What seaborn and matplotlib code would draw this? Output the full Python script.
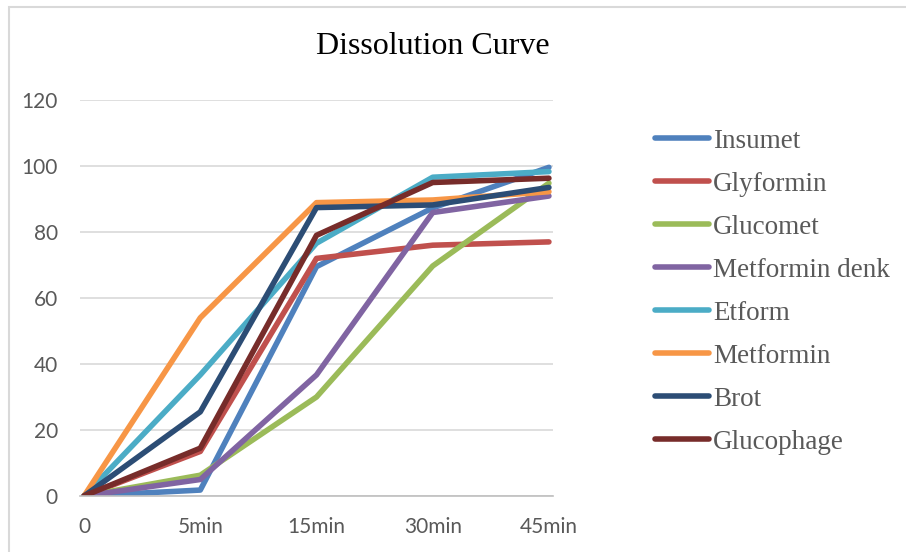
import matplotlib
matplotlib.use("Agg")
import matplotlib.pyplot as plt
import seaborn as sns
import pandas as pd
from matplotlib.patches import Rectangle

categories = ["0", "5min", "15min", "30min", "45min"]
insumet = [0, 1.8, 69.5, 87.3, 99.6]
glyformin = [0, 13.5, 72, 76, 77]
glucomet = [0, 6.3, 30, 69.7, 94.8]
metformin_denk = [0, 5, 36.7, 85.9, 90.9]
etform = [0, 36.7, 76.6, 96.6, 98.3]
metformin = [0, 54, 88.9, 89.7, 92.2]
brot = [0, 25.5, 87.4, 88.2, 93.5]
glucophage = [0, 14.5, 79, 95, 96.3]

series = {
    "Insumet": insumet,
    "Glyformin": glyformin,
    "Glucomet": glucomet,
    "Metformin denk": metformin_denk,
    "Etform": etform,
    "Metformin": metformin,
    "Brot": brot,
    "Glucophage": glucophage,
}
colors = ["#4F81BD", "#C0504D", "#9BBB59", "#8064A2", "#4BACC6",
          "#F79646", "#2C4D75", "#772C2A"]

rows = []
for name, vals in series.items():
    for i, v in enumerate(vals):
        rows.append({"time": i, "value": v, "series": name})
df = pd.DataFrame(rows)

sns.set_theme(style="white")
fig = plt.figure(figsize=(9.06, 5.52), dpi=100)
ax = fig.add_axes([80 / 906, 1 - 496 / 552, (553 - 80) / 906, (496 - 100) / 552])

sns.lineplot(data=df, x="time", y="value", hue="series", palette=colors,
             linewidth=4.0, ax=ax, legend=False, solid_capstyle="round")

ax.set_xlim(-0.035, 4.035)
ax.set_ylim(0, 120)
ax.set_yticks(range(0, 121, 20))
ax.set_xticks(range(5))
ax.set_xticklabels(categories)
ax.yaxis.grid(True, color="#D9D9D9", linewidth=1.2)
ax.set_axisbelow(True)
for s in ["top", "right", "left"]:
    ax.spines[s].set_visible(False)
ax.spines["bottom"].set_color("#BFBFBF")
ax.spines["bottom"].set_linewidth(1.2)
ax.tick_params(axis="both", length=0, labelsize=15, colors="#595959")
ax.tick_params(axis="y", pad=16)
ax.tick_params(axis="x", pad=15)
for lab in ax.get_xticklabels() + ax.get_yticklabels():
    lab.set_family("Lato")
ax.set_xlabel("")
ax.set_ylabel("")

fig.text(433 / 906, 1 - 46 / 552, "Dissolution Curve", ha="center", va="center",
         fontsize=23, family="Liberation Serif", color="black")

handles = [plt.Line2D([0], [0], color=c, linewidth=4.0, solid_capstyle="round")
           for c in colors]
leg = fig.legend(handles, list(series.keys()), loc="upper left",
                 bbox_to_anchor=(655 / 906, 1 - 128.5 / 552), frameon=False,
                 prop={"family": "Liberation Serif", "size": 19.5},
                 handlelength=2.0, handletextpad=0.15, labelspacing=0.665,
                 borderpad=0, borderaxespad=0)
for t in leg.get_texts():
    t.set_color("#595959")

fig.patches.append(Rectangle((8.5 / 906, -0.1), 2.0, (1 - 6.5 / 552) + 0.1,
                             transform=fig.transFigure, fill=False,
                             edgecolor="#D9D9D9", linewidth=1.5))

fig.savefig("out.png", dpi=100)
